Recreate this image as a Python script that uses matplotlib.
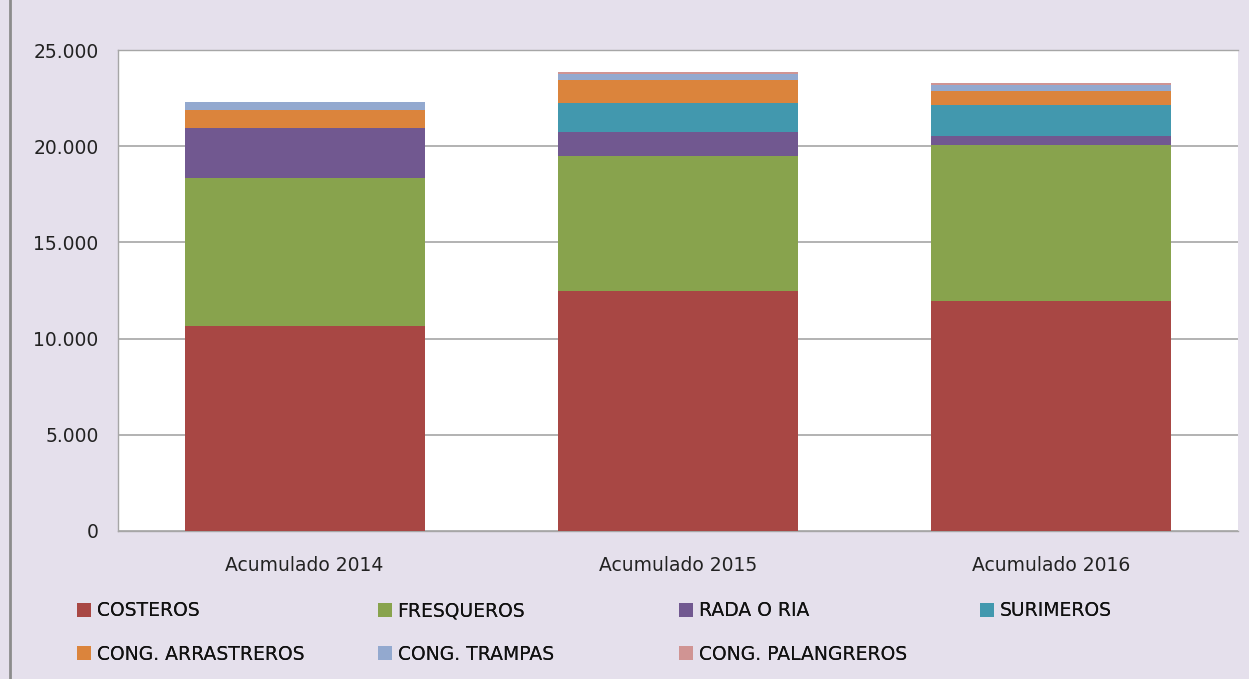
import numpy as np
import matplotlib.pyplot as plt
from matplotlib.ticker import FuncFormatter
from matplotlib.patches import Patch
from matplotlib.lines import Line2D

plt.rcParams['font.family'] = ['DejaVu Sans']

# Data
years = ["Acumulado 2014", "Acumulado 2015", "Acumulado 2016"]
series = ["COSTEROS", "FRESQUEROS", "RADA O RIA", "SURIMEROS",
          "CONG. ARRASTREROS", "CONG. TRAMPAS", "CONG. PALANGREROS"]
costeros = [10650, 12470, 11950]
fresqueros = [7700, 7020, 8100]
rada_o_ria = [2610, 1250, 500]
surimeros = [0, 1520, 1590]
arrastreros = [910, 1200, 750]
trampas = [410, 290, 270]
palangreros = [0, 90, 120]
colors = ["#A84744", "#88A34D", "#715890", "#4298AE",
          "#DB843C", "#93A9CF", "#D09493"]

values = [costeros, fresqueros, rada_o_ria, surimeros,
          arrastreros, trampas, palangreros]

bg = "#E5E0EC"
fig = plt.figure(figsize=(12.49, 6.79), dpi=100, facecolor=bg)
ax = fig.add_axes([118 / 1249, 1 - 531 / 679, 1120 / 1249, 481 / 679])
ax.set_facecolor("white")

x = np.arange(len(years))
bottom = np.zeros(len(years))
for vals, col in zip(values, colors):
    ax.bar(x, vals, width=0.643, bottom=bottom, color=col, zorder=3)
    bottom += np.array(vals)

ax.set_xlim(-0.5, 2.5)
ax.set_ylim(0, 25000)
ax.set_yticks(range(0, 25001, 5000))
ax.yaxis.set_major_formatter(FuncFormatter(lambda v, p: f"{int(v):,}".replace(",", ".")))
ax.yaxis.grid(True, color="#A6A6A6", lw=1.2, zorder=0)
ax.set_xticks(x)
ax.set_xticklabels(years)
ax.tick_params(axis="both", labelsize=13.5, colors="#222222", length=0)
ax.tick_params(axis="y", pad=14)
ax.tick_params(axis="x", pad=18)
for s in ax.spines.values():
    s.set_color("#A6A6A6")
    s.set_linewidth(1)
ax.spines["right"].set_visible(False)

# legend: 4 columns, 2 rows, built one entry at a time
col_x = [60, 361, 662, 963]
rows_y = [611, 654]
for i, (name, col) in enumerate(zip(series, colors)):
    cx = col_x[i % 4]
    cy = rows_y[i // 4]
    leg = fig.legend(handles=[Patch(facecolor=col, edgecolor="none")],
                     labels=[name], loc="center left",
                     bbox_to_anchor=(cx / 1249, 1 - cy / 679),
                     frameon=False, fontsize=13.5, handlelength=0.75,
                     handleheight=0.75, handletextpad=0.3,
                     labelcolor="#111111")
    fig.add_artist(leg)

fig.add_artist(Line2D([10 / 1249, 10 / 1249], [0, 1], color="#8C8C8C", lw=2))

fig.savefig("out.png", dpi=100, facecolor=bg)
